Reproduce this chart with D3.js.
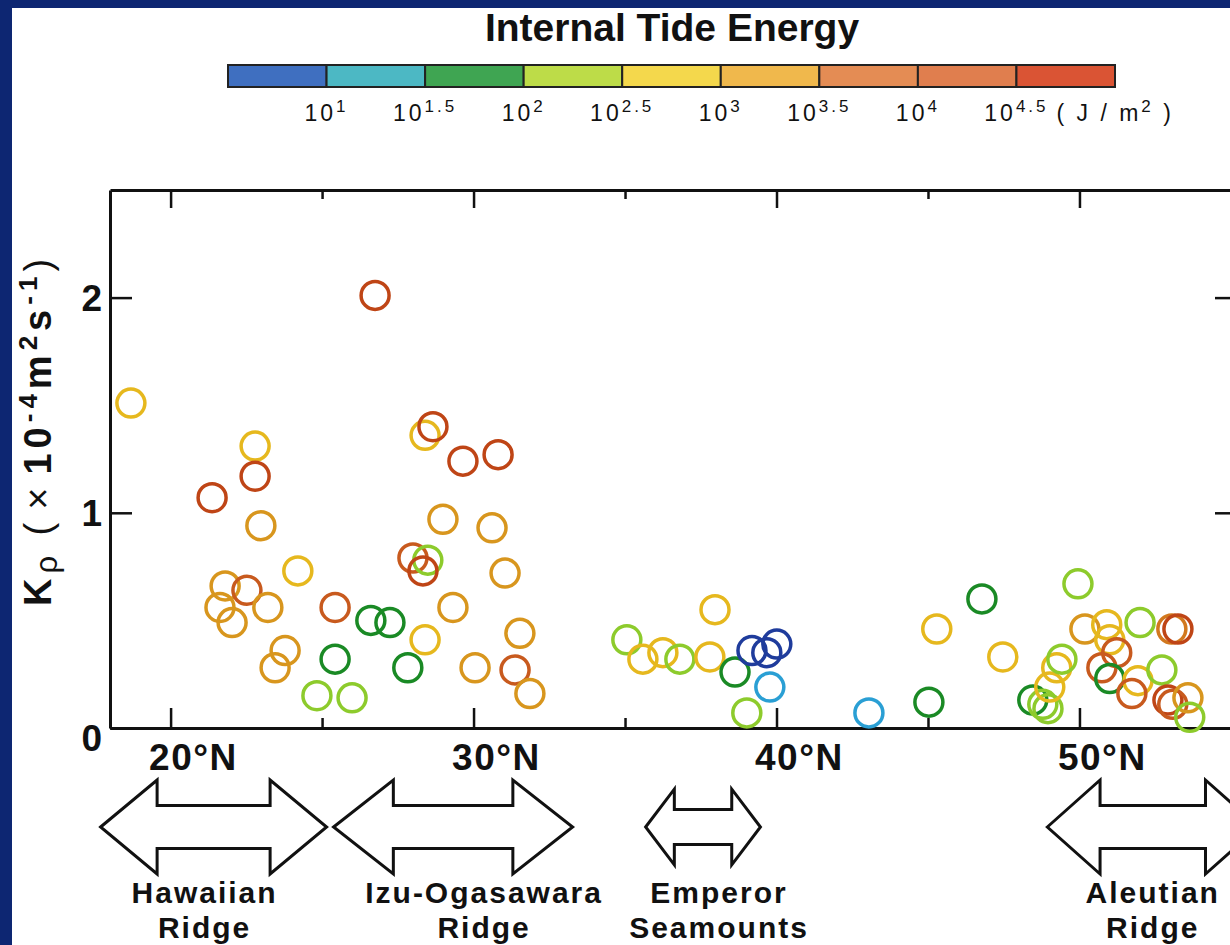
<!DOCTYPE html>
<html>
<head>
<meta charset="utf-8">
<script src="https://cdn.jsdelivr.net/npm/d3@7/dist/d3.min.js"></script>
<style>
  body { margin: 0; background: #0d2672; }
  svg { display: block; }
  text { font-family: "Liberation Sans", Arial, Helvetica, sans-serif; }
</style>
</head>
<body>
<div id="chart"></div>
<script>
// station latitude (deg N), diapycnal diffusivity Kp (x1e-4 m2/s), log10 internal tide energy (J/m2)
const lat = [18.69, 21.37, 22.79, 22.79, 22.98, 24.20, 21.80, 22.52, 21.63, 22.03,
  23.21, 23.78, 23.45, 25.43, 25.43, 24.83, 25.99, 26.61, 27.24, 27.83,
  26.75, 28.40, 28.66, 29.65, 30.81, 28.99, 30.61, 28.00, 28.49, 28.33,
  31.04, 29.32, 28.40, 31.53, 30.05, 31.37, 31.86, 35.06, 35.59, 36.25,
  36.81, 37.97, 37.80, 38.63, 39.02, 39.19, 39.68, 40.01, 39.78, 43.05,
  45.03, 45.29, 46.78, 47.47, 49.95, 48.46, 48.79, 48.96, 49.02, 49.25,
  49.42, 50.18, 50.90, 51.00, 51.23, 50.74, 51.00, 52.00, 53.05, 53.25,
  51.93, 52.72, 51.73, 52.92, 53.08, 53.58, 53.64]
const kp = [1.51, 1.07, 1.31, 1.17, 0.94, 0.73, 0.66, 0.64, 0.56, 0.49,
  0.56, 0.36, 0.28, 0.56, 0.32, 0.15, 0.14, 0.50, 0.49, 0.28,
  2.01, 1.36, 1.40, 1.24, 1.27, 0.97, 0.93, 0.79, 0.78, 0.73,
  0.72, 0.56, 0.41, 0.44, 0.28, 0.27, 0.16, 0.41, 0.32, 0.35,
  0.32, 0.55, 0.33, 0.26, 0.07, 0.36, 0.35, 0.39, 0.19, 0.07,
  0.12, 0.46, 0.60, 0.33, 0.67, 0.13, 0.11, 0.09, 0.19, 0.28,
  0.32, 0.46, 0.48, 0.41, 0.35, 0.28, 0.23, 0.49, 0.46, 0.46,
  0.22, 0.27, 0.16, 0.13, 0.11, 0.14, 0.05]
const logE = [2.7, 4.7, 2.8, 4.6, 3.2, 2.9, 3.3, 4.2, 3.2, 3.4,
  3.3, 3.2, 3.3, 4.3, 1.8, 2.2, 2.3, 1.7, 1.8, 1.9,
  4.8, 2.7, 4.6, 4.7, 4.6, 3.2, 3.3, 4.2, 2.3, 4.6,
  3.2, 3.3, 2.8, 3.2, 3.4, 4.2, 3.3, 2.2, 2.7, 2.8,
  2.3, 2.9, 2.8, 1.8, 2.2, 0.8, 0.8, 0.9, 1.3, 1.2,
  1.8, 2.8, 1.7, 2.7, 2.2, 1.9, 2.3, 2.4, 2.7, 2.8,
  2.3, 3.2, 2.9, 2.8, 4.2, 4.3, 1.8, 2.2, 3.7, 4.6,
  2.8, 2.3, 4.2, 4.6, 4.3, 3.3, 2.3]

const energyBreaks = [1, 1.5, 2, 2.5, 3, 3.5, 4, 4.5]
const energyExtent = [0.5, 5]
const markerColors = ["#1f3c9c", "#2a9fd4", "#1a8a25", "#8dcb2c", "#e6b81e",
  "#d8961e", "#d2781e", "#c85a1e", "#bf4516"]
const barColors = ["#3f6fc0", "#4cb8c4", "#3fa552", "#bddc48", "#f4d84c",
  "#f0b84c", "#e48c54", "#e07e4e", "#da5434"]

const latTicks = [20, 30, 40, 50]
const latMinorTicks = [25, 35, 45]
const kpTicks = [0, 1, 2]

const regionNames = [["Hawaiian", "Ridge"], ["Izu-Ogasawara", "Ridge"],
  ["Emperor", "Seamounts"], ["Aleutian", "Ridge"]]
const regionStart = [17.69, 25.38, 35.68, 48.94]
const regionEnd = [25.15, 33.27, 39.47, 55.9]
const regionLabelShift = [-9, 31, 16, 0]

const width = 1230, height = 945

const svg = d3.select("#chart").append("svg")
  .attr("width", width)
  .attr("height", height)

svg.append("rect")
  .attr("x", 12).attr("y", 8)
  .attr("width", width - 12).attr("height", height - 8)
  .attr("fill", "#fff")

// ---- scales
const x = d3.scaleLinear().domain([18, 55.2]).range([110, 1237])
const y = d3.scaleLinear().domain([0, 2.5]).range([728, 190])
const color = d3.scaleThreshold().domain(energyBreaks).range(markerColors)

// ---- colour bar
svg.append("text")
  .attr("x", 672).attr("y", 41)
  .attr("text-anchor", "middle")
  .attr("font-size", 39)
  .attr("font-weight", "bold")
  .attr("fill", "#111")
  .text("Internal Tide Energy")

const cb = d3.scaleLinear().domain(energyExtent).range([228, 1115])
const bins = d3.range(barColors.length).map(i =>
  [i === 0 ? energyExtent[0] : energyBreaks[i - 1],
   i === barColors.length - 1 ? energyExtent[1] : energyBreaks[i]])

svg.selectAll(".cbin")
  .data(bins)
  .enter().append("rect")
  .attr("class", "cbin")
  .attr("x", d => cb(d[0]))
  .attr("y", 65)
  .attr("width", d => cb(d[1]) - cb(d[0]))
  .attr("height", 22)
  .attr("fill", (d, i) => barColors[i])
  .attr("stroke", "#222")
  .attr("stroke-width", 2)

const cbLabels = svg.selectAll(".cblab")
  .data(energyBreaks)
  .enter().append("text")
  .attr("class", "cblab")
  .attr("x", d => cb(d))
  .attr("y", 121)
  .attr("text-anchor", "middle")
  .attr("font-size", 23)
  .attr("letter-spacing", 3)
  .attr("fill", "#111")
cbLabels.append("tspan").text("10")
cbLabels.append("tspan")
  .attr("dy", -9)
  .attr("font-size", 17)
  .text(d => d)

const unit = svg.append("text")
  .attr("x", cb(4.5) + 40).attr("y", 121)
  .attr("font-size", 23)
  .attr("letter-spacing", 3)
  .attr("fill", "#111")
unit.append("tspan").text("( J / m")
unit.append("tspan").attr("dy", -9).attr("font-size", 17).text("2")
unit.append("tspan").attr("dy", 9).text(" )")

// ---- axes
const g = svg.append("g")

function styleAxis(sel) {
  sel.select(".domain").attr("stroke", "#111").attr("stroke-width", 3)
  sel.selectAll(".tick line").attr("stroke", "#111").attr("stroke-width", 2.5)
}

const xAxis = g.append("g")
  .attr("transform", `translate(0,${y(0)})`)
  .call(d3.axisBottom(x).tickValues(latTicks).tickSizeInner(-20).tickSizeOuter(0)
    .tickPadding(16).tickFormat(d => d + "°N"))
  .call(styleAxis)
xAxis.selectAll(".tick text")
  .attr("font-size", 37)
  .attr("font-weight", "bold")
  .attr("fill", "#111")
  .attr("text-anchor", "start")
  .attr("x", -22)
  .attr("letter-spacing", 1.5)

g.append("g")
  .attr("transform", `translate(0,${y(0)})`)
  .call(d3.axisBottom(x).tickValues(latMinorTicks).tickSizeInner(-10).tickSizeOuter(0).tickFormat(""))
  .call(styleAxis)
  .select(".domain").remove()

g.append("g")
  .attr("transform", `translate(0,${y(2.5)})`)
  .call(d3.axisTop(x).tickValues(latTicks).tickSizeInner(-18).tickSizeOuter(0).tickFormat(""))
  .call(styleAxis)

g.append("g")
  .attr("transform", `translate(0,${y(2.5)})`)
  .call(d3.axisTop(x).tickValues(latMinorTicks).tickSizeInner(-9).tickSizeOuter(0).tickFormat(""))
  .call(styleAxis)
  .select(".domain").remove()

const yAxis = g.append("g")
  .attr("transform", `translate(${x(18)},0)`)
  .call(d3.axisLeft(y).tickValues(kpTicks).tickSizeInner(-22).tickSizeOuter(0)
    .tickPadding(8).tickFormat(d3.format("d")))
  .call(styleAxis)
yAxis.selectAll(".tick text")
  .attr("font-size", 37)
  .attr("font-weight", "bold")
  .attr("fill", "#111")
  .attr("dy", d => d === 0 ? "0.6em" : "0.35em")

g.append("g")
  .attr("transform", `translate(${x(55.2)},0)`)
  .call(d3.axisRight(y).tickValues(kpTicks.slice(1)).tickSizeInner(-22).tickSizeOuter(0).tickFormat(""))
  .call(styleAxis)

// y axis title
const yt = svg.append("text")
  .attr("transform", "translate(51,430) rotate(-90)")
  .attr("text-anchor", "middle")
  .attr("font-size", 38)
  .attr("letter-spacing", 5)
  .attr("fill", "#111")
yt.append("tspan").attr("font-weight", "bold").text("K")
yt.append("tspan").attr("font-size", 31).attr("dy", 6).text("ρ")
yt.append("tspan").attr("dy", -6).text(" (")
yt.append("tspan").attr("dx", 8).text("×")
yt.append("tspan").attr("dx", 8).attr("font-weight", "bold").text("10")
yt.append("tspan").attr("font-weight", "bold").attr("font-size", 26).attr("dy", -14).text("-4")
yt.append("tspan").attr("font-weight", "bold").attr("dy", 14).text("m")
yt.append("tspan").attr("font-weight", "bold").attr("font-size", 26).attr("dy", -14).text("2")
yt.append("tspan").attr("font-weight", "bold").attr("dy", 14).text("s")
yt.append("tspan").attr("font-weight", "bold").attr("font-size", 26).attr("dy", -14).text("-1")
yt.append("tspan").attr("dy", 14).text(")")

// ---- stations
const stations = lat.map((d, i) => ({ lat: d, kp: kp[i], e: logE[i] }))

svg.append("g").selectAll("circle")
  .data(stations)
  .enter().append("circle")
  .attr("cx", d => x(d.lat))
  .attr("cy", d => y(d.kp))
  .attr("r", 14)
  .attr("fill", "none")
  .attr("stroke", d => color(d.e))
  .attr("stroke-width", 3.5)

// ---- region arrows
const arrowY = 827
function arrowPath(x0, x1) {
  const len = x1 - x0
  const headLen = len * 0.25
  const headH = Math.min(47, len * 0.33)
  const shaftH = headH * 0.46
  return "M" + [
    [x0, arrowY], [x0 + headLen, arrowY - headH], [x0 + headLen, arrowY - shaftH],
    [x1 - headLen, arrowY - shaftH], [x1 - headLen, arrowY - headH], [x1, arrowY],
    [x1 - headLen, arrowY + headH], [x1 - headLen, arrowY + shaftH],
    [x0 + headLen, arrowY + shaftH], [x0 + headLen, arrowY + headH]
  ].join("L") + "Z"
}

const regions = regionNames.map((n, i) => ({ name: n, a: regionStart[i], b: regionEnd[i], shift: regionLabelShift[i] }))

const rg = svg.append("g").selectAll("g")
  .data(regions)
  .enter().append("g")

rg.append("path")
  .attr("d", d => arrowPath(x(d.a), x(d.b)))
  .attr("fill", "#fff")
  .attr("stroke", "#111")
  .attr("stroke-width", 3)

rg.each(function(d) {
  const cx = (x(d.a) + x(d.b)) / 2 + d.shift
  d.name.forEach((line, j) => {
    d3.select(this).append("text")
      .attr("x", cx)
      .attr("y", 903 + j * 35)
      .attr("text-anchor", "middle")
      .attr("font-size", 30)
      .attr("font-weight", "bold")
      .attr("letter-spacing", 2)
      .attr("fill", "#111")
      .text(line)
  })
})
</script>
</body>
</html>
